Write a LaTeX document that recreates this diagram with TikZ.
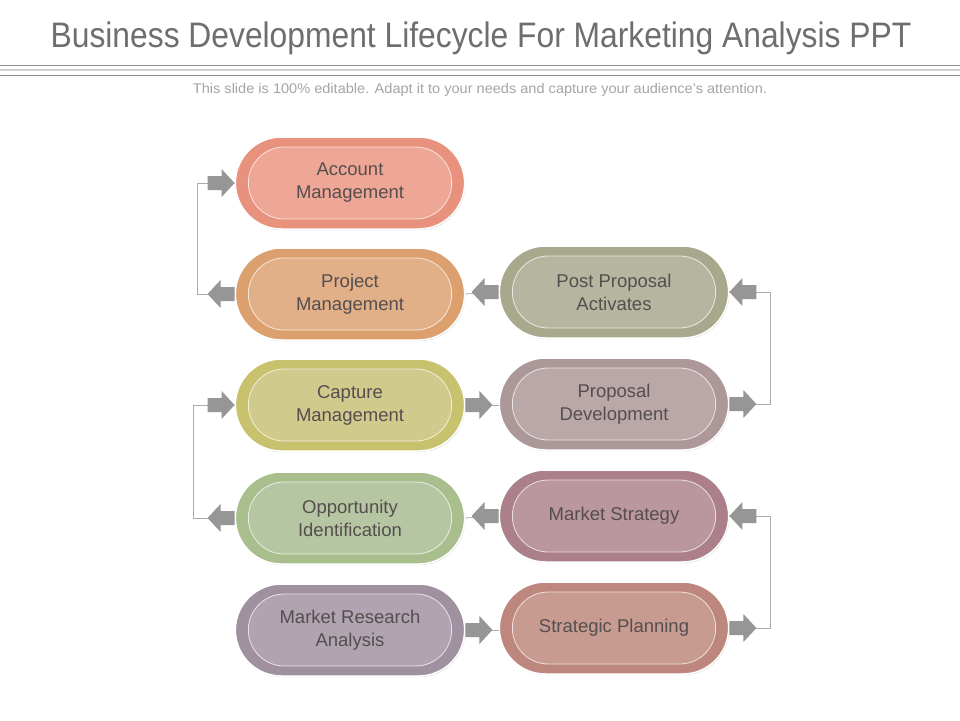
\documentclass[tikz,border=0pt]{standalone}
\usepackage{fontspec}
\setmainfont{Liberation Sans}
\usetikzlibrary{shapes.misc,shadows}
\definecolor{title-grey}{RGB}{110,110,110}
\definecolor{sub-grey}{RGB}{165,165,165}
\definecolor{arrow-grey}{RGB}{150,150,150}
\definecolor{text-grey}{RGB}{85,78,78}
\definecolor{am-out}{RGB}{232,145,125}
\definecolor{am-in}{RGB}{238,166,150}
\definecolor{pm-out}{RGB}{220,160,110}
\definecolor{pm-in}{RGB}{226,176,136}
\definecolor{cm-out}{RGB}{200,193,110}
\definecolor{cm-in}{RGB}{208,202,140}
\definecolor{oi-out}{RGB}{168,190,140}
\definecolor{oi-in}{RGB}{182,198,162}
\definecolor{mr-out}{RGB}{160,145,160}
\definecolor{mr-in}{RGB}{176,164,176}
\definecolor{pp-out}{RGB}{168,168,140}
\definecolor{pp-in}{RGB}{182,182,160}
\definecolor{pd-out}{RGB}{172,152,152}
\definecolor{pd-in}{RGB}{186,168,168}
\definecolor{ms-out}{RGB}{172,128,138}
\definecolor{ms-in}{RGB}{186,150,158}
\definecolor{sp-out}{RGB}{190,135,125}
\definecolor{sp-in}{RGB}{200,155,145}

\begin{document}
\begin{tikzpicture}[x=1pt, y=-1pt,
    pill/.style={rounded rectangle, minimum width=236pt, minimum height=92pt,
      draw=white, line width=1.5pt,
      drop shadow={opacity=0.3, shadow xshift=0.8pt, shadow yshift=-1pt}},
    inner/.style={rounded rectangle, minimum width=210pt, minimum height=72pt,
      draw=white!70!#1, line width=0.8pt, fill=#1, text=text-grey,
      align=center, font=\fontsize{18.5}{23}\selectfont},
    link/.style={draw=arrow-grey!80, line width=0.8pt},
    barrow/.pic={\fill[arrow-grey] (-27,-7) -- (-13,-7) -- (-13,-14) -- (0,0)
      -- (-13,14) -- (-13,7) -- (-27,7) -- cycle;}]
  \useasboundingbox (0,0) rectangle (960,720);
  \fill[white] (0,0) rectangle (960,720);

  % heading
  \node[text=title-grey, font=\fontsize{30}{30}\selectfont] (title) at (481,38)
    {\scalebox{1.06}[1.18]{Business Development Lifecycle For Marketing Analysis PPT}};
  \draw[black!45, line width=0.8pt] (0,65) -- (960,65);
  \draw[black!18, line width=2pt] (0,70) -- (960,70);
  \draw[black!45, line width=0.8pt] (0,75) -- (960,75);
  \node[text=sub-grey, font=\fontsize{14}{14}\selectfont] (sub) at (480,90)
    {\scalebox{1.04}[1]{This slide is 100\% editable. Adapt it to your needs and capture your audience's attention.}};

  % connectors
  \draw[link] (350,294) ++(-114,0) -- ++(-39,0) |- (236,183);
  \draw[link] (350,518) ++(-114,0) -- ++(-43,0) |- (236,405);
  \draw[link] (614,404) ++(114,0) -- ++(42,0) |- (728,292);
  \draw[link] (614,628) ++(114,0) -- ++(42,0) |- (728,516);

  % stages, left column
  \node[pill, fill=am-out] (am) at (350,183) {};
  \node[inner=am-in] at (am) {Account\\Management};
  \node[pill, fill=pm-out] (pm) at (350,294) {};
  \node[inner=pm-in] at (pm) {Project\\Management};
  \node[pill, fill=cm-out] (cm) at (350,405) {};
  \node[inner=cm-in] at (cm) {Capture\\Management};
  \node[pill, fill=oi-out] (oi) at (350,518) {};
  \node[inner=oi-in] at (oi) {Opportunity\\Identification};
  \node[pill, fill=mr-out] (mr) at (350,630) {};
  \node[inner=mr-in] at (mr) {Market Research\\Analysis};

  % stages, right column
  \node[pill, fill=pp-out] (pp) at (614,292) {};
  \node[inner=pp-in] at (pp) {Post Proposal\\Activates};
  \node[pill, fill=pd-out] (pd) at (614,404) {};
  \node[inner=pd-in] at (pd) {Proposal\\Development};
  \node[pill, fill=ms-out] (ms) at (614,516) {};
  \node[inner=ms-in] at (ms) {Market Strategy};
  \node[pill, fill=sp-out] (sp) at (614,628) {};
  \node[inner=sp-in] at (sp) {Strategic Planning};

  \draw[link] (pp.west) -- (pm.east);
  \draw[link] (cm.east) -- (cm.east -| pd.west);
  \draw[link] (ms.west) -- (oi.east);
  \draw[link] (mr.east) -- (mr.east -| sp.west);

  % block arrows
  \pic at (am.west) {barrow};
  \pic[rotate=180] at ([xshift=-27pt]pm.west) {barrow};
  \pic at (cm.west) {barrow};
  \pic[rotate=180] at ([xshift=-27pt]oi.west) {barrow};
  \pic[rotate=180] at ([xshift=-27pt]pp.west) {barrow};
  \pic at ([xshift=27pt]cm.east) {barrow};
  \pic[rotate=180] at ([xshift=-27pt]ms.west) {barrow};
  \pic at ([xshift=27pt]mr.east) {barrow};
  \pic[rotate=180] at (pp.east) {barrow};
  \pic at ([xshift=27pt]pd.east) {barrow};
  \pic[rotate=180] at (ms.east) {barrow};
  \pic at ([xshift=27pt]sp.east) {barrow};
\end{tikzpicture}
\end{document}
